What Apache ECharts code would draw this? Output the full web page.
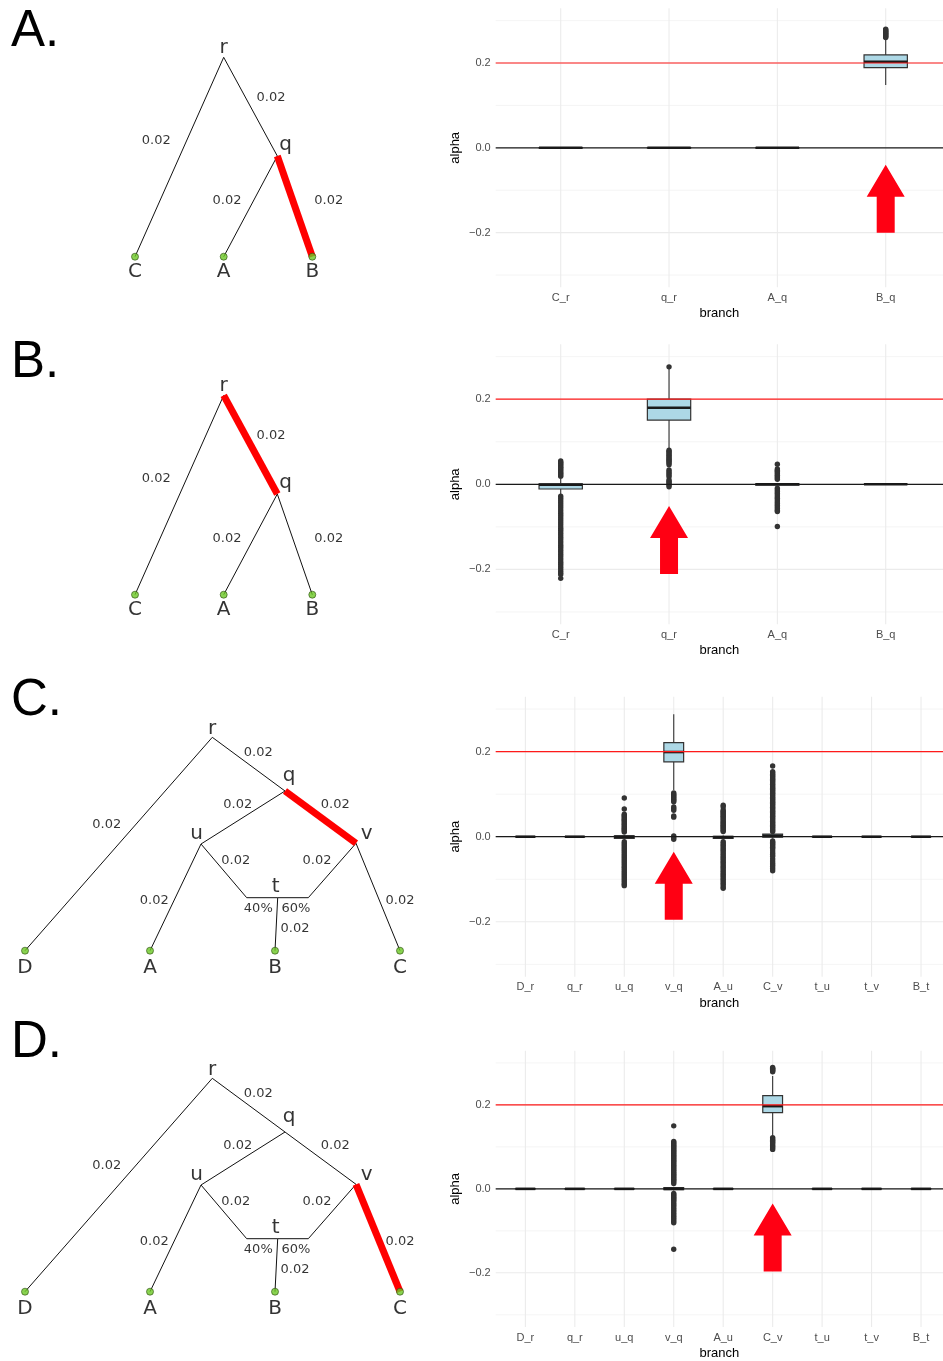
<!DOCTYPE html>
<html><head><meta charset="utf-8">
<script src="https://cdn.jsdelivr.net/npm/echarts@6/dist/echarts.min.js"></script>
<style>html,body{margin:0;padding:0;background:#fff}#c{width:943px;height:1361px}</style>
</head><body><div id="c"></div>
<script>
// ---------------- DATA ----------------
const catsAB = ['C_r', 'q_r', 'A_q', 'B_q'];
const catsCD = ['D_r', 'q_r', 'u_q', 'v_q', 'A_u', 'C_v', 't_u', 't_v', 'B_t'];
const yTickValues = [-0.2, 0, 0.2];
const yMinorValues = [-0.3, -0.1, 0.1, 0.3];
const targetAlpha = [0.2];
const zeroAlpha = [0];

// box stats: [lower whisker, Q1, median, Q3, upper whisker]
const boxA = [[0,0,0,0,0],[0,0,0,0,0],[0,0,0,0,0],[0.148,0.189,0.203,0.219,0.257]];
const outA = [[],[],[],[0.260,0.262,0.264,0.266,0.268,0.270,0.272,0.274,0.276,0.278,0.280]];

const boxB = [[-0.026,-0.011,-0.001,0.001,0.013],[0.084,0.151,0.180,0.200,0.272],[-0.004,-0.002,0,0.001,0.003],[0,0,0,0,0]];
const outB = [
  [0.055,0.052,0.049,0.046,0.043,0.040,0.037,0.034,0.031,0.028,0.025,0.022,0.019,
   -0.028,-0.033,-0.038,-0.043,-0.048,-0.053,-0.058,-0.063,-0.068,-0.073,-0.078,-0.083,-0.088,-0.093,-0.098,
   -0.103,-0.108,-0.113,-0.118,-0.123,-0.128,-0.133,-0.138,-0.143,-0.148,-0.153,-0.158,-0.163,-0.168,-0.173,
   -0.178,-0.183,-0.188,-0.193,-0.198,-0.203,-0.208,-0.212,-0.221],
  [0.276,0.080,0.077,0.074,0.071,0.068,0.065,0.062,0.059,0.056,0.053,0.050,0.046,0.034,0.030,0.026,0.022,0.018,
   0.010,0.007,0.004,0.001,-0.002,-0.006],
  [0.047,0.036,0.033,0.030,0.027,0.024,0.021,0.018,0.015,0.012,
   -0.009,-0.013,-0.017,-0.021,-0.025,-0.029,-0.033,-0.037,-0.041,-0.045,-0.049,-0.053,-0.057,-0.061,-0.064,-0.099],
  []
];

const boxC = [[0,0,0,0,0],[0,0,0,0,0],[-0.006,-0.004,0,0.002,0.004],[0.110,0.176,0.199,0.221,0.288],
  [-0.006,-0.004,-0.001,0.001,0.003],[-0.004,-0.001,0.002,0.006,0.009],[0,0,0,0,0],[0,0,0,0,0],[0,0,0,0,0]];
const outC = [
  [],
  [],
  [0.091,0.065,0.053,0.050,0.047,0.044,0.041,0.038,0.035,0.032,0.029,0.026,0.023,0.020,0.017,0.014,0.011,
   -0.012,-0.016,-0.020,-0.024,-0.028,-0.032,-0.036,-0.040,-0.044,-0.048,-0.052,-0.056,-0.060,-0.064,-0.068,
   -0.072,-0.076,-0.080,-0.084,-0.088,-0.092,-0.096,-0.100,-0.104,-0.108,-0.112,-0.115],
  [0.103,0.100,0.097,0.094,0.091,0.088,0.085,0.082,0.070,0.066,0.062,0.049,0.046,0.002,-0.002,-0.006],
  [0.074,0.070,0.063,0.060,0.057,0.054,0.051,0.048,0.045,0.042,0.039,0.036,0.033,0.030,0.027,0.024,0.021,0.018,0.015,0.012,
   -0.012,-0.016,-0.020,-0.024,-0.028,-0.032,-0.036,-0.040,-0.044,-0.048,-0.052,-0.056,-0.060,-0.064,-0.068,
   -0.072,-0.076,-0.080,-0.084,-0.088,-0.092,-0.096,-0.100,-0.104,-0.108,-0.112,-0.117,-0.121],
  [0.166,0.153,0.150,0.147,0.144,0.141,0.138,0.135,0.132,0.129,0.126,0.123,0.120,0.117,0.114,0.111,0.108,0.105,
   0.102,0.099,0.096,0.093,0.090,0.087,0.084,0.081,0.078,0.075,0.072,0.069,0.066,0.063,0.060,0.057,0.054,0.051,
   0.048,0.045,0.042,0.039,0.036,0.033,0.030,0.027,0.024,0.021,0.018,0.015,0.012,
   -0.010,-0.013,-0.016,-0.019,-0.022,-0.025,-0.028,-0.033,-0.038,-0.042,-0.046,-0.052,-0.057,-0.062,-0.066,-0.070,-0.075,-0.080],
  [],
  [],
  []
];

const boxD = [[0,0,0,0,0],[0,0,0,0,0],[0,0,0,0,0],[-0.004,-0.002,0,0.003,0.005],[0,0,0,0,0],
  [0.125,0.1815,0.197,0.222,0.269],[0,0,0,0,0],[0,0,0,0,0],[0,0,0,0,0]];
const outD = [
  [],
  [],
  [],
  [0.150,0.113,0.110,0.107,0.104,0.101,0.098,0.095,0.092,0.089,0.086,0.083,0.080,0.077,0.074,0.071,0.068,0.065,
   0.062,0.059,0.056,0.053,0.050,0.047,0.044,0.041,0.038,0.035,0.032,0.029,0.026,0.023,0.020,0.017,0.013,
   -0.011,-0.014,-0.017,-0.020,-0.023,-0.026,-0.029,-0.033,-0.037,-0.041,-0.045,-0.049,-0.053,-0.057,-0.061,
   -0.065,-0.069,-0.073,-0.077,-0.081,-0.144],
  [],
  [0.289,0.287,0.285,0.283,0.281,0.279,0.122,0.119,0.116,0.113,0.110,0.107,0.103,0.100,0.097,0.094],
  [],
  [],
  []
];

// arrow annotations: [category, alpha at arrow centre]
const arrowA = ['B_q', -0.120];
const arrowB = ['q_r', -0.131];
const arrowC = ['v_q', -0.115];
const arrowD = ['C_v', -0.116];

// tree labels
const tree1Edges = [['r','C'], ['r','q'], ['q','A'], ['q','B']];
const tree1EdgeLengths = ['0.02', '0.02', '0.02', '0.02'];
const tree1Leaves = ['C', 'A', 'B'];
const tree1Internal = ['r', 'q'];
const tree2Edges = [['r','D'], ['r','q'], ['q','u'], ['q','v'], ['u','A'], ['v','C'], ['u','tl','t'], ['v','tr','t'], ['t','B']];
const tree2EdgeLengths = ['0.02', '0.02', '0.02', '0.02', '0.02', '0.02', '0.02', '0.02', '0.02'];
const tree2Leaves = ['D', 'A', 'B', 'C'];
const tree2Internal = ['r', 'q', 'u', 'v', 't'];
const admixtureLabels = ['40%', '60%'];
const panelLetters = ['A.', 'B.', 'C.', 'D.'];

// ---------------- LAYOUT (positions / styles) ----------------
const tree1Pos = { r:[223.7,57.3], q:[277.3,156], C:[135,256.7], A:[223.7,256.7], B:[312.3,256.7] };
const tree1LabelPos = { r:[223.7,47.3], q:[285.7,144.5], C:[135,271.5], A:[223.7,271.5], B:[312.3,271.5] };
const tree1EdgeLabelPos = [[156.3,141],[271,97.8],[227,201],[328.7,201]];

const tree2Pos = { r:[212.3,57.3], q:[285,111], u:[201,164], v:[356,163.3], t:[277.7,217.7],
  tl:[246.7,217.7], tr:[308.3,217.7], D:[25,270.7], A:[150,270.7], B:[275,270.7], C:[400,270.7] };
const tree2LabelPos = { r:[212,48.3], q:[289,96], u:[196.7,153.3], v:[366.7,153.3], t:[275.7,206.5],
  D:[25,287.5], A:[150,287.5], B:[275,287.5], C:[400,287.5] };
const tree2EdgeLabelPos = [[106.7,144.5],[258.3,72.5],[237.7,124.5],[335.3,124.5],[154.3,220.8],[400,220.8],[235.7,180.8],[317,180.8],[295,249]];
const admixLabelPos = [[258.3,229],[296,229]];

const panels = [
  { rowTop: 0,    boxTop: 8.3,    boxH: 279, cats: catsAB, box: boxA, out: outA, arrow: arrowA, tree: 1, red: 3, letterY: 32 },
  { rowTop: 338,  boxTop: 344.3,  boxH: 280, cats: catsAB, box: boxB, out: outB, arrow: arrowB, tree: 1, red: 1, letterY: 362.5 },
  { rowTop: 680,  boxTop: 696.7,  boxH: 280, cats: catsCD, box: boxC, out: outC, arrow: arrowC, tree: 2, red: 3, letterY: 701 },
  { rowTop: 1021, boxTop: 1050.7, boxH: 278, cats: catsCD, box: boxD, out: outD, arrow: arrowD, tree: 2, red: 5, letterY: 1043 }
];

const SANS = 'Liberation Sans, Arial, sans-serif';
const DEJAVU = 'DejaVu Sans, sans-serif';
const ARROW_PATH = 'path://M19 0 L38 32 L28 32 L28 68 L10 68 L10 32 L0 32 Z';
const BOX_LEFT = 495.7, PANEL_W = 455, VISIBLE_W = 943 - 495.7;

// ---------------- BUILD ----------------
const grid = [], xAxis = [], yAxis = [], series = [], graphic = [];

function hGridRender(params, api) {
  const cs = params.coordSys;
  const y = api.coord([0, api.value(0)])[1];
  const major = api.value(1) === 1;
  return { type: 'line', shape: { x1: cs.x, y1: y, x2: cs.x + cs.width, y2: y },
    style: { stroke: '#ebebeb', lineWidth: major ? 1.07 : 0.55 } };
}
function vGridRender(params, api) {
  const cs = params.coordSys;
  const x = api.coord([api.value(0), 0])[0];
  return { type: 'line', shape: { x1: x, y1: cs.y, x2: x, y2: cs.y + cs.height },
    style: { stroke: '#ebebeb', lineWidth: 1.07 } };
}
function boxRender(params, api) {
  const i = api.value(0);
  const lo = api.value(1), q1 = api.value(2), med = api.value(3), q3 = api.value(4), hi = api.value(5);
  const band = api.size([1, 0])[0];
  const w = band * 0.4;
  const pm = api.coord([i, med]);
  const x = pm[0];
  const yLo = api.coord([i, lo])[1], yQ1 = api.coord([i, q1])[1], yQ3 = api.coord([i, q3])[1], yHi = api.coord([i, hi])[1];
  return { type: 'group', children: [
    { type: 'line', shape: { x1: x, y1: yHi, x2: x, y2: yQ3 }, style: { stroke: '#333', lineWidth: 1.1 } },
    { type: 'line', shape: { x1: x, y1: yQ1, x2: x, y2: yLo }, style: { stroke: '#333', lineWidth: 1.1 } },
    { type: 'rect', shape: { x: x - w / 2, y: yQ3, width: w, height: Math.max(yQ1 - yQ3, 0.01) },
      style: { fill: '#add8e6', stroke: '#333', lineWidth: 1.2 } },
    { type: 'line', shape: { x1: x - w / 2, y1: pm[1], x2: x + w / 2, y2: pm[1] }, style: { stroke: '#1a1a1a', lineWidth: 2.6 } }
  ] };
}
function refRender(color, width) {
  return function (params, api) {
    const cs = params.coordSys;
    const y = api.coord([0, api.value(0)])[1];
    return { type: 'line', shape: { x1: cs.x, y1: y, x2: cs.x + cs.width, y2: y },
      style: { stroke: color, lineWidth: width } };
  };
}

panels.forEach((p, k) => {
  // ---- tree grid ----
  const tg = grid.length;
  grid.push({ left: 0, top: p.rowTop, width: 440, height: 340 });
  xAxis.push({ gridIndex: tg, type: 'value', min: 0, max: 440, show: false });
  yAxis.push({ gridIndex: tg, type: 'value', min: 0, max: 340, inverse: true, show: false });

  const pos = p.tree === 1 ? tree1Pos : tree2Pos;
  const lpos = p.tree === 1 ? tree1LabelPos : tree2LabelPos;
  const edges = p.tree === 1 ? tree1Edges : tree2Edges;
  const lens = p.tree === 1 ? tree1EdgeLengths : tree2EdgeLengths;
  const elpos = p.tree === 1 ? tree1EdgeLabelPos : tree2EdgeLabelPos;
  const leaves = p.tree === 1 ? tree1Leaves : tree2Leaves;
  const internal = p.tree === 1 ? tree1Internal : tree2Internal;

  const common = { xAxisIndex: tg, yAxisIndex: tg, silent: true, animation: false };
  series.push(Object.assign({
    type: 'lines', coordinateSystem: 'cartesian2d', polyline: true, z: 2,
    lineStyle: { color: '#111', width: 1, opacity: 1 },
    data: edges.filter((e, i) => i !== p.red).map(e => ({ coords: e.map(n => pos[n]) }))
  }, common));
  series.push(Object.assign({
    type: 'lines', coordinateSystem: 'cartesian2d', polyline: true, z: 3,
    lineStyle: { color: '#ff0000', width: 7, opacity: 1, cap: 'butt' },
    data: [{ coords: edges[p.red].map(n => pos[n]) }]
  }, common));
  series.push(Object.assign({
    type: 'scatter', z: 4, symbol: 'circle', symbolSize: 7,
    itemStyle: { color: '#6cc824', borderColor: '#2e4f12', borderWidth: 0.8 },
    data: leaves.map(n => pos[n])
  }, common));
  const textItems = [];
  leaves.concat(internal).forEach(n => textItems.push({ value: lpos[n], name: n, fs: 20 }));
  lens.forEach((t, i) => textItems.push({ value: elpos[i], name: t, fs: 13 }));
  if (p.tree === 2) admixtureLabels.forEach((t, i) => textItems.push({ value: admixLabelPos[i], name: t, fs: 13 }));
  series.push(Object.assign({
    type: 'scatter', z: 5, symbolSize: 1, itemStyle: { color: 'transparent' },
    data: textItems.map(d => ({ value: d.value, name: d.name,
      label: { show: true, position: 'inside', formatter: '{b}', color: '#000', fontSize: d.fs, fontFamily: DEJAVU } }))
  }, common));

  graphic.push({ type: 'text', x: 11, y: p.letterY, silent: true,
    style: { text: panelLetters[k], fontSize: 51, fontFamily: SANS, fill: '#000', align: 'left', verticalAlign: 'middle' } });

  // ---- box grid ----
  const bg = grid.length;
  const n = p.cats.length;
  const unit = PANEL_W / (n + 0.2);
  grid.push({ left: BOX_LEFT, top: p.boxTop, width: VISIBLE_W, height: p.boxH });
  xAxis.push({
    gridIndex: bg, type: 'value', min: -0.6, max: -0.6 + VISIBLE_W / unit,
    axisLine: { show: false }, axisTick: { show: false }, splitLine: { show: false },
    axisLabel: { customValues: p.cats.map((c, i) => i), formatter: v => p.cats[Math.round(v)] || '',
      color: '#4d4d4d', fontSize: 11, margin: 5, fontFamily: SANS },
    name: 'branch', nameLocation: 'middle', nameGap: 20,
    nameTextStyle: { color: '#000', fontSize: 13, fontFamily: SANS }
  });
  yAxis.push({
    gridIndex: bg, type: 'value', min: -0.329, max: 0.329,
    axisLine: { show: false }, axisTick: { show: false }, splitLine: { show: false },
    axisLabel: { customValues: yTickValues, formatter: v => (v < -1e-9 ? '\u2212' : '') + Math.abs(v).toFixed(1),
      color: '#4d4d4d', fontSize: 11, margin: 5, fontFamily: SANS },
    name: 'alpha', nameLocation: 'middle', nameGap: 34,
    nameTextStyle: { color: '#000', fontSize: 13, fontFamily: SANS }
  });
  const bc = { xAxisIndex: bg, yAxisIndex: bg, silent: true, animation: false };
  series.push(Object.assign({ type: 'custom', z: 1, renderItem: hGridRender,
    data: yTickValues.map(v => [v, 1]).concat(yMinorValues.map(v => [v, 0])) }, bc));
  series.push(Object.assign({ type: 'custom', z: 1, renderItem: vGridRender,
    data: p.cats.map((c, i) => [i]) }, bc));
  series.push(Object.assign({ type: 'custom', z: 2, renderItem: boxRender,
    data: p.box.map((b, i) => [i].concat(b)) }, bc));
  const pts = [];
  p.out.forEach((arr, i) => arr.forEach(v => pts.push([i, v])));
  series.push(Object.assign({ type: 'scatter', z: 3, symbolSize: 5.4,
    itemStyle: { color: '#333333', opacity: 1 }, data: pts }, bc));
  series.push(Object.assign({ type: 'custom', z: 4, renderItem: refRender('#1a1a1a', 1.3),
    data: zeroAlpha.map(v => [v]) }, bc));
  series.push(Object.assign({ type: 'custom', z: 4, renderItem: refRender('#ff1a1a', 1.2),
    data: targetAlpha.map(v => [v]) }, bc));
  series.push(Object.assign({ type: 'scatter', z: 6, symbol: ARROW_PATH, symbolSize: [38, 68],
    itemStyle: { color: '#ff0013', opacity: 1 },
    data: [[p.cats.indexOf(p.arrow[0]), p.arrow[1]]] }, bc));
});

const chart = echarts.init(document.getElementById('c'), null, { renderer: 'canvas' });
chart.setOption({ animation: false, backgroundColor: '#fff', grid, xAxis, yAxis, series, graphic });
</script>
</body></html>
